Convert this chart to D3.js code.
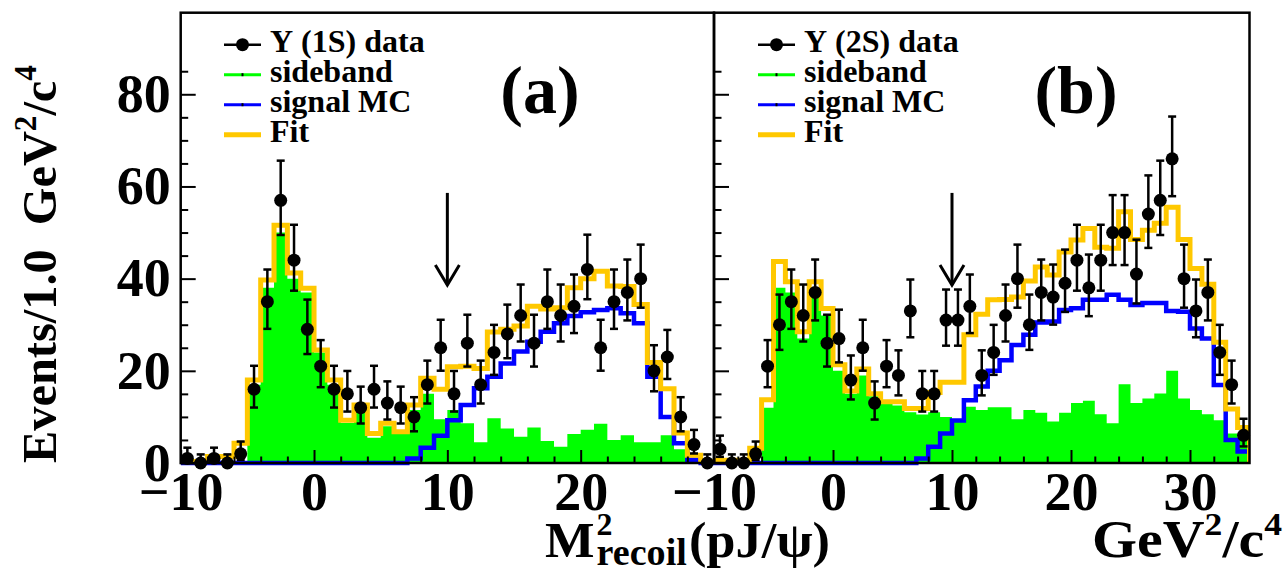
<!DOCTYPE html>
<html><head><meta charset="utf-8">
<script src="https://cdn.jsdelivr.net/npm/d3@7"></script>
<style>
body{margin:0;background:#fff}
svg text{font-family:"Liberation Serif","Times New Roman",serif;font-weight:bold;fill:#000}
</style>
</head><body>
<svg id="c" width="1286" height="571"></svg>
<script>
// ---------------- data (1 GeV^2/c^4 bins, low edges) ----------------
const binLowA = d3.range(-10, 30);
const dataA = [1,0,1,0,2,16,35,57,44,29,21,16,15,12,16,13,12,10,17,25,15,26,17,24,28,32,26,35,32,34,42,25,35,37,40,20,23,10,4,0];
const sidebandA = [0,0,0,0,0,17,38,50,40,37,24,17,8.7,12,5.5,8,6.3,11.5,15,9.5,11.5,8.6,4.5,9.7,7.5,5.7,7.7,4.8,3.5,6.3,7.2,8.5,5,6,4.5,4.5,6,3,1,0];
const signalA = [0,0,0,0,0,0,0,0,0,0,0,0,0,0,0,0,0,1,3.3,5.9,9.3,12.6,16.2,18.7,21.6,24.2,26.3,28.5,30.3,31.9,32.7,33.2,33.6,32.5,30.3,18.7,10,4.3,0.7,0];
const fitA = [0.3,0.3,1.4,1.4,4.3,18,39.7,51.6,41.2,37.9,24.5,18,9.3,12.6,6.4,8.6,6.8,12.6,18.4,16,20.9,21,20.5,28.4,29,29.7,34,33.4,33.7,38,40,41.6,38.4,38.3,34.4,21.8,16.1,6.5,1.7,0.3];

const binLowB = d3.range(-10, 35);
const dataB = [3,0,0,2,21,30,35,32,37,26,27,18,25,13,21,19,33,15,15,31,31,34,19,24,32,40,30,37,36,39,44,38,44,50,50,41,54,57,66,40,33,37,24,17,6];
const sidebandB = [0,0,0,0,12,38,37,27,37,32,20,15,19,14.5,13,12.5,11,10.5,11,10,9.5,12.2,11.5,12.1,12.1,9.5,11.5,10.9,9,10.9,13,13.5,10.6,8.6,17.1,13,14,15.1,20,14,11.5,10.6,9.3,6.4,5];
const signalB = [0,0,0,0,0,0,0,0,0,0,0,0,0,0,0,0,0,1,3.5,6.4,9.2,13.6,16.6,20,22.3,25.6,27.8,30.5,30.7,33.2,33.6,35.4,35.4,36.5,35.4,34.3,34.7,34.7,33,32.8,29.2,27,16.9,5,2.5];
const fitB = [0.6,0.6,0.6,3.2,13.7,43.7,39.3,28.5,39.3,33.5,21.3,15.6,20.4,15,13.3,13.3,11.8,11.8,15.3,17.5,17.5,27.8,32.3,35.4,35.5,36,39.5,42.5,40.8,45.8,48.4,50.9,46.8,46.6,54.5,48.5,50.5,52,55.5,48.5,42.2,38.8,26.2,11.7,7.7];

const xTicksA = [-10,0,10,20];
const xTicksB = [-10,0,10,20,30];
const xMinorA = [-8,-6,-4,-2,2,4,6,8,12,14,16,18,22,24,26,28];
const xMinorB = [-8,-6,-4,-2,2,4,6,8,12,14,16,18,22,24,26,28,32,34];
const yTicks = [0,20,40,60,80];
const yMinor = [5,10,15,25,30,35,45,50,55,65,70,75,85];
const legendA = ["\u03A5 (1S) data","sideband","signal MC","Fit"];
const legendB = ["\u03A5 (2S) data","sideband","signal MC","Fit"];
const arrowX = 10, arrowTop = 58.6, arrowTip = 38.6;

// ---------------- layout ----------------
const svg = d3.select('#c');
const FONT = '"Liberation Serif","Times New Roman",serif';
const GREEN = '#00ff00', BLUE = '#0000ff', GOLD = '#ffc800';
const y = d3.scaleLinear().domain([0, 97.7]).range([463, 12.7]);
const xA = d3.scaleLinear().domain([-10, 30]).range([180.7, 714]);
const xB = d3.scaleLinear().domain([-10, 35]).range([714, 1249.5]);

function stepPts(lows, vals) {
  const p = [[lows[0], 0]];
  lows.forEach((l, i) => { p.push([l, vals[i]]); p.push([l + 1, vals[i]]); });
  p.push([lows[lows.length - 1] + 1, 0]);
  return p;
}
function poisErr(n) {
  return [n > 0 ? n - Math.sqrt(n - 0.25) : 0, n + 1 + Math.sqrt(n + 0.75)];
}

function panel(x, lows, data, side, sig, fit, xt, xm, showYLabels, legend, lx, tag, tagX) {
  const g = svg.append('g');
  const clipId = 'clip' + tag.replace(/\W/g, '');
  svg.append('clipPath').attr('id', clipId).append('rect')
    .attr('x', x.range()[0]).attr('y', y.range()[1]).attr('width', x.range()[1] - x.range()[0]).attr('height', y.range()[0] - y.range()[1] + 8);
  const gp = g.append('g').attr('clip-path', `url(#${clipId})`);
  gp.append('path').datum(stepPts(lows, side))
    .attr('d', d3.area().x(d => x(d[0])).y0(y(0)).y1(d => y(d[1])))
    .attr('fill', GREEN);
  gp.append('path').datum(stepPts(lows, sig))
    .attr('d', d3.line().x(d => x(d[0])).y(d => y(d[1])))
    .attr('fill', 'none').attr('stroke', BLUE).attr('stroke-width', 4.5);
  gp.append('path').datum(stepPts(lows, fit))
    .attr('d', d3.line().x(d => x(d[0])).y(d => y(d[1])))
    .attr('fill', 'none').attr('stroke', GOLD).attr('stroke-width', 5);
  const pts = lows.map((l, i) => ({ c: l + 0.5, n: data[i], e: poisErr(data[i]) }));
  const eg = g.append('g').attr('stroke', '#000').attr('stroke-width', 2.5);
  pts.forEach(p => {
    const cx = x(p.c), y1 = y(p.e[0]), y2 = y(p.e[1]);
    eg.append('line').attr('x1', cx).attr('x2', cx).attr('y1', y1).attr('y2', y2);
    eg.append('line').attr('x1', cx - 4).attr('x2', cx + 4).attr('y1', y2).attr('y2', y2);
    if (p.n > 0) eg.append('line').attr('x1', cx - 4).attr('x2', cx + 4).attr('y1', y1).attr('y2', y1);
  });
  g.append('g').selectAll('circle').data(pts).join('circle')
    .attr('cx', d => x(d.c)).attr('cy', d => y(d.n)).attr('r', 6.5).attr('fill', '#000');
  const ax = x(arrowX);
  g.append('line').attr('x1', ax).attr('x2', ax).attr('y1', y(arrowTop)).attr('y2', y(arrowTip))
    .attr('stroke', '#000').attr('stroke-width', 3);
  g.append('polyline').attr('points', `${ax - 12},${y(arrowTip) - 20} ${ax},${y(arrowTip)} ${ax + 12},${y(arrowTip) - 20}`)
    .attr('fill', 'none').attr('stroke', '#000').attr('stroke-width', 3);

  const bottom = y(0);
  const gxm = g.append('g').attr('transform', `translate(0,${bottom})`)
    .call(d3.axisBottom(x).tickValues(xm).tickSize(-6.5).tickFormat(''));
  const gx = g.append('g').attr('transform', `translate(0,${bottom})`)
    .call(d3.axisBottom(x).tickValues(xt).tickSize(-13).tickPadding(9).tickFormat(d3.format('d')));
  const y0 = x.range()[0];
  const gym = g.append('g').attr('transform', `translate(${y0},0)`)
    .call(d3.axisLeft(y).tickValues(yMinor).tickSize(-7.5).tickFormat(''));
  const gy = g.append('g').attr('transform', `translate(${y0},0)`)
    .call(d3.axisLeft(y).tickValues(yTicks).tickSize(-15).tickPadding(10)
      .tickFormat(showYLabels ? d3.format('d') : ''));
  [gxm, gx, gym, gy].forEach(a => {
    a.select('.domain').remove();
    a.selectAll('line').attr('stroke', '#000').attr('stroke-width', 2);
    a.attr('font-family', FONT).attr('font-size', 54).attr('font-weight', 'bold');
    a.selectAll('text').attr('fill', '#000');
  });
  g.append('rect').attr('x', x.range()[0]).attr('y', y.range()[1])
    .attr('width', x.range()[1] - x.range()[0]).attr('height', y.range()[0] - y.range()[1])
    .attr('fill', 'none').attr('stroke', '#000').attr('stroke-width', 2.5);

  const lg = g.append('g');
  const base = [51.7, 81.7, 111.7, 141.7];
  const sx1 = lx, sx2 = lx + 37, scx = (sx1 + sx2) / 2;
  legend.forEach((t, i) => {
    const sy = base[i] - 7;
    const col = ['#000', GREEN, BLUE, GOLD][i];
    const sw = [2.5, 3, 3, 5][i];
    lg.append('line').attr('x1', sx1).attr('x2', sx2).attr('y1', sy).attr('y2', sy)
      .attr('stroke', col).attr('stroke-width', sw);
    if (i === 0) lg.append('circle').attr('cx', scx).attr('cy', sy).attr('r', 6.5).attr('fill', '#000');
    if (i === 1 || i === 2) lg.append('rect').attr('x', scx - 1).attr('y', sy - 1.5).attr('width', 2).attr('height', 3).attr('fill', '#000');
    lg.append('text').attr('x', lx + 46).attr('y', base[i]).attr('font-size', 32).text(t);
  });
  g.append('text').attr('x', tagX).attr('y', 113).attr('text-anchor', 'middle')
    .attr('font-size', 68).text(tag);
}

panel(xA, binLowA, dataA, sidebandA, signalA, fitA, xTicksA, xMinorA, true, legendA, 224, '(a)', 540);
panel(xB, binLowB, dataB, sidebandB, signalB, fitB, xTicksB, xMinorB, false, legendB, 758, '(b)', 1076);

// y title (stretched along its length to the reference extent)
const ytg = svg.append('g');
const yt = ytg.append('text').attr('text-anchor', 'middle').attr('font-size', 48);
yt.append('tspan').text('Events/1.0\u00a0\u00a0GeV');
yt.append('tspan').attr('font-size', 31).attr('dy', -20).text('2');
yt.append('tspan').attr('dy', 20).text('/c');
yt.append('tspan').attr('font-size', 31).attr('dy', -20).text('4');
const yLen = yt.node().getBBox().width;
ytg.attr('transform', `translate(56,264) rotate(-90) scale(${398 / yLen},1)`);

// x title: M^2_recoil(pJ/psi)
const xg = svg.append('g');
const tM = xg.append('text').attr('x', 0).attr('y', 557).attr('font-size', 51).text('M');
const wM = tM.node().getComputedTextLength();
const tSup = xg.append('text').attr('x', wM + 2).attr('y', 535).attr('font-size', 31).text('2');
const tSub = xg.append('text').attr('x', wM + 2).attr('y', 565).attr('font-size', 37).text('recoil');
const wS = Math.max(tSup.node().getComputedTextLength(), tSub.node().getComputedTextLength());
const tP = xg.append('text').attr('x', wM + 4 + wS).attr('y', 557).attr('font-size', 51).text('(pJ/\u03C8)');
const wAll = wM + 4 + wS + tP.node().getComputedTextLength();
xg.attr('transform', `translate(545,0) scale(${285 / wAll},1)`);

// x title unit
const ug = svg.append('g');
const gt = ug.append('text').attr('x', 0).attr('y', 557).attr('text-anchor', 'end').attr('font-size', 52);
gt.append('tspan').text('GeV');
gt.append('tspan').attr('font-size', 32).attr('dy', -22).text('2');
gt.append('tspan').attr('dy', 22).text('/c');
gt.append('tspan').attr('font-size', 32).attr('dy', -22).text('4');
const wU = gt.node().getBBox().width;
ug.attr('transform', `translate(1282,0) scale(${190 / wU},1)`);
</script>
</body></html>
